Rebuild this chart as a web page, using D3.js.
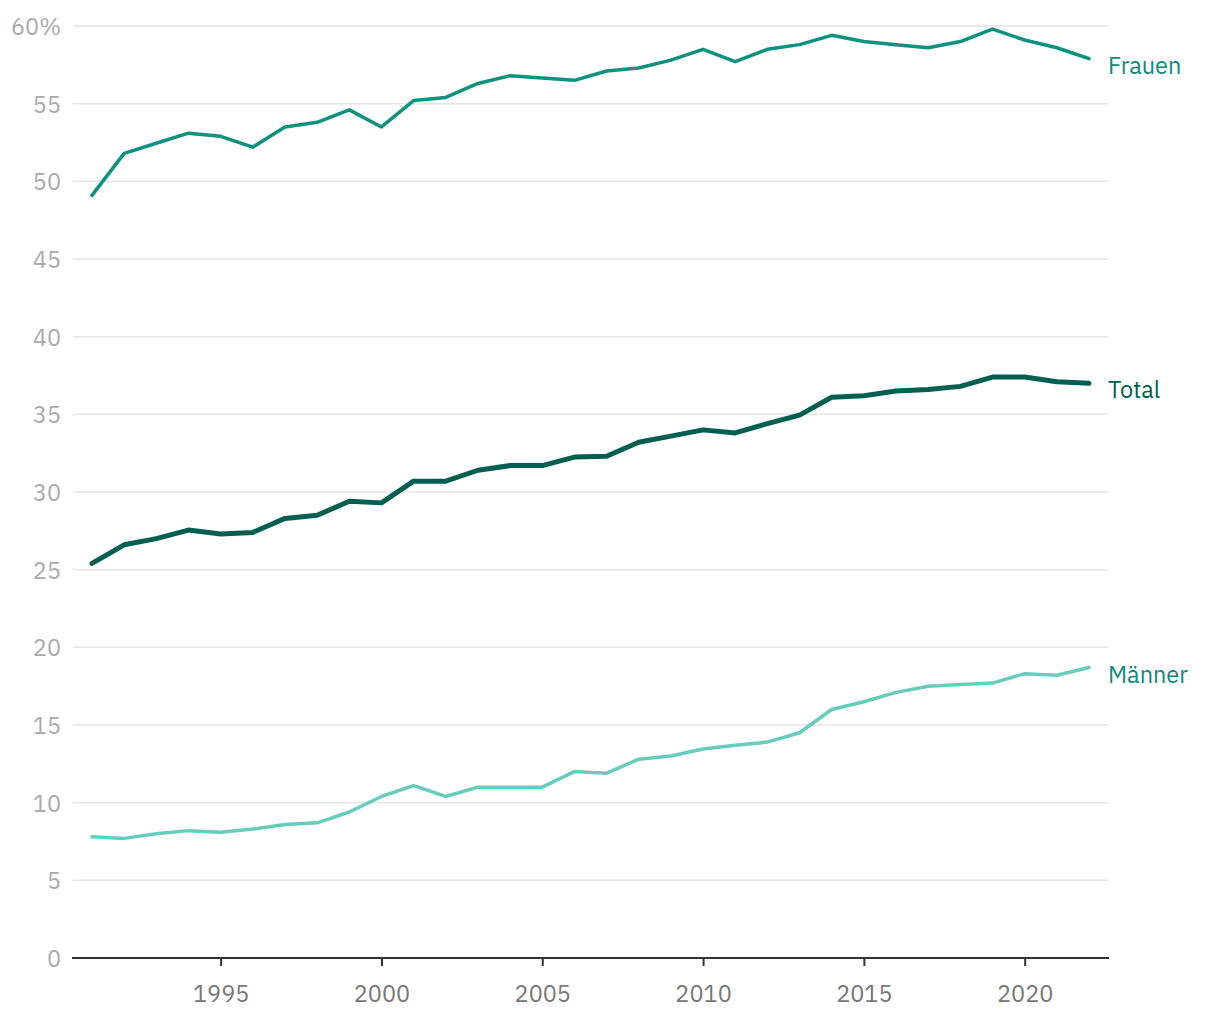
<!DOCTYPE html>
<html><head><meta charset="utf-8">
<script src="https://cdn.jsdelivr.net/npm/d3@7"></script>
<style>body{margin:0;background:#fff;font-family:"IBM Plex Sans","Noto Sans",sans-serif;}</style>
</head><body><svg id="c" width="1220" height="1020"></svg>
<script>
const years = d3.range(1991, 2023);
const frauen = [49.1,51.8,52.45,53.1,52.9,52.2,53.5,53.8,54.6,53.5,55.2,55.4,56.3,56.8,56.65,56.5,57.1,57.3,57.8,58.5,57.7,58.5,58.8,59.4,59.0,58.8,58.6,59.0,59.8,59.1,58.6,57.9];
const total = [25.4,26.6,27.0,27.55,27.3,27.4,28.3,28.5,29.4,29.3,30.7,30.7,31.4,31.7,31.7,32.25,32.3,33.2,33.6,34.0,33.8,34.4,34.95,36.1,36.2,36.5,36.6,36.8,37.4,37.4,37.1,37.0];
const maenner = [7.8,7.7,8.0,8.2,8.1,8.3,8.6,8.7,9.4,10.4,11.1,10.4,11.0,11.0,11.0,12.0,11.9,12.8,13.0,13.45,13.7,13.9,14.5,16.0,16.5,17.1,17.5,17.6,17.7,18.3,18.2,18.7];
const yTicks = [0,5,10,15,20,25,30,35,40,45,50,55,60];
const xTicks = [1995,2000,2005,2010,2015,2020];
const series = [
  {name:"Männer", values:maenner, color:"#66ccbb", label:"#0e8a78", width:3.5},
  {name:"Total", values:total, color:"#005f50", label:"#005f50", width:5},
  {name:"Frauen", values:frauen, color:"#0e9180", label:"#0e8a78", width:3.5}
];
const FS = 23.5;
const svg = d3.select("#c");
const x = d3.scaleLinear().domain([1991,2022]).range([92,1089]);
const y = d3.scaleLinear().domain([0,60]).range([958,26]);
const gx0 = 73, gx1 = 1108;
// gridlines
svg.append("g").selectAll("line").data(yTicks.filter(d=>d>0)).join("line")
  .attr("x1",gx0).attr("x2",gx1).attr("y1",d=>y(d)).attr("y2",d=>y(d))
  .attr("stroke","#e5e5e5").attr("stroke-width",1.5);
// y labels
svg.append("g").selectAll("text").data(yTicks).join("text")
  .attr("x",61).attr("y",d=>y(d)+9).attr("text-anchor","end")
  .attr("fill","#aaaaaa").attr("font-size",FS)
  .text(d=>d===60?"60%":d);
// x axis
const xa = svg.append("g").attr("transform",`translate(0,${y(0)})`)
  .call(d3.axisBottom(x).tickValues(xTicks).tickFormat(d3.format("d")).tickSize(8).tickSizeOuter(0).tickPadding(19));
xa.select(".domain").remove();
xa.append("line").attr("x1",gx0-1).attr("x2",gx1+1).attr("stroke","#333").attr("stroke-width",2);
xa.selectAll(".tick line").attr("stroke","#333").attr("stroke-width",2);
xa.selectAll(".tick text").attr("fill","#777").attr("font-size",FS).attr("font-family","IBM Plex Sans, Noto Sans, sans-serif");
// lines
const line = d3.line().x((d,i)=>x(years[i])).y(d=>y(d));
series.forEach(s=>{
  svg.append("path").datum(s.values).attr("d",line).attr("fill","none")
    .attr("stroke",s.color).attr("stroke-width",s.width)
    .attr("stroke-linejoin","round").attr("stroke-linecap","round");
  svg.append("text").attr("x",1108).attr("y",y(s.values[s.values.length-1])+15)
    .attr("fill",s.label).attr("font-size",FS).text(s.name);
});
</script></body></html>
